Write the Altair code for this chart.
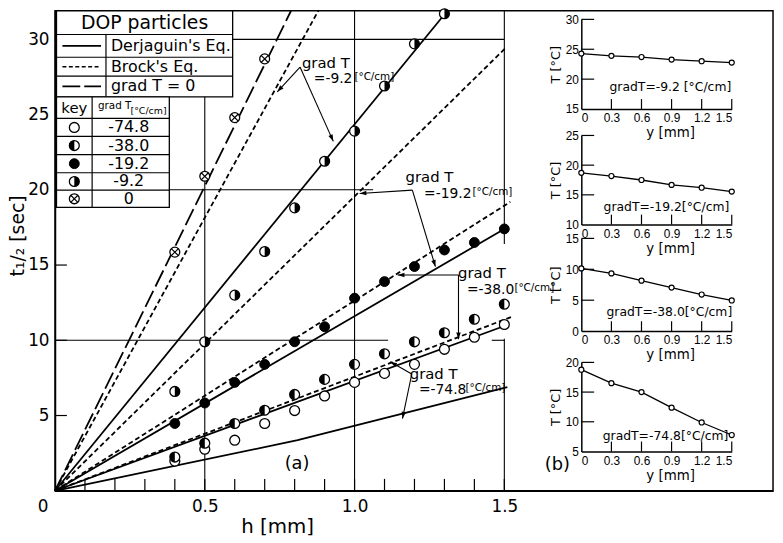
import math
import altair as alt
import pandas as pd

# ---------------- data ----------------
H = [0.4, 0.5, 0.6, 0.7, 0.8, 0.9, 1.0, 1.1, 1.2, 1.3, 1.4, 1.5]
T_M748 = [1.97, 2.76, 3.36, 4.47, 5.33, 6.3, 7.2, 7.8, 8.4, 9.4, 10.2, 11.05]
T_M380 = [2.24, 3.16, 4.47, 5.35, 6.4, 7.4, 8.4, 9.1, 9.9, 10.5, 11.4, 12.4]
T_M192 = [4.47, 5.83, 7.2, 8.4, 9.9, 10.9, 12.8, 13.9, 14.9, 16.0, 16.5, 17.4]
H_M92 = [0.4, 0.5, 0.6, 0.7, 0.8, 0.9, 1.0, 1.1, 1.2, 1.3]
T_M92 = [6.6, 9.9, 13.0, 15.9, 18.8, 21.9, 23.9, 26.9, 29.7, 31.7]
H_ZERO = [0.4, 0.5, 0.6, 0.7]
T_ZERO = [15.86, 20.9, 24.8, 28.7]

# theoretical curves (vertices)
LINE_ID = ["gradT0", "brock-9.2", "derj-9.2", "brock-19.2", "derj-19.2",
           "brock-38.0", "derj-38.0", "brock-74.8", "derj-74.8"]
LINE_KIND = ["long", "short", "solid", "short", "solid", "short", "solid", "short", "solid"]
LINE_H = [[0, 0.788], [0, 0.879], [0, 1.31], [0, 1.508], [0, 1.5],
          [0, 1.52], [0, 1.5], [0, 1.53], [0, 0.81, 1.51]]
LINE_T = [[0, 31.9], [0, 31.9], [0, 31.9], [0, 29.5], [0, 17.4],
          [0, 19.2], [0, 10.95], [0, 11.6], [0, 3.36, 6.89]]

# inset (b): temperature profiles
Y_POS = [0, 0.3, 0.6, 0.9, 1.2, 1.5]
T_P1 = [24.27, 23.9, 23.7, 23.27, 23.0, 22.77]
T_P2 = [18.7, 18.17, 17.5, 16.67, 16.2, 15.55]
T_P3 = [10.14, 9.34, 8.16, 7.04, 5.92, 4.96]
T_P4 = [18.77, 16.5, 15.0, 12.38, 9.88, 7.77]

GRADS = ["-74.8", "-38.0", "-19.2", "-9.2", "0"]

# ---------------- layout ----------------
FONT = "DejaVu Sans"
SMALL_FONT = "Liberation Sans"
W, HT = 725.5, 485
XMAX, YMAX = 2.397, 31.9
PXH, PXT = W / XMAX, HT / YMAX

XS = alt.Scale(domain=[0, XMAX], nice=False, zero=False)
YS = alt.Scale(domain=[0, YMAX], nice=False, zero=False)
XAX = alt.Axis(values=[0.5, 1.0, 1.5], format=".1f", labelFontSize=17, labelPadding=8,
               title="h  [mm]", titleFontSize=20, titleX=224.5, titleY=36,
               titleBaseline="middle", titleAlign="center")
YAX = alt.Axis(values=[5, 10, 15, 20, 25, 30], labelFontSize=17, labelPadding=6,
               title="t₁/₂ [sec]", titleFontSize=19, titleX=-37.5, titleY=227,
               titleBaseline="middle", titleAlign="center")


def mx(f):
    return alt.X(f + ":Q", scale=XS, axis=XAX)


def my(f):
    return alt.Y(f + ":Q", scale=YS, axis=YAX)


LEFT_HALF = "M0,-1A1,1,0,0,0,0,1Z"
RIGHT_HALF = "M0,-1A1,1,0,0,1,0,1Z"
CROSS = "M-0.72,-0.72L0.72,0.72M-0.72,0.72L0.72,-0.72"
ARROW = "M0,0L-0.42,1.25L0.42,1.25Z"


def marker_layers(df, x, y, kind, size=100):
    base = alt.Chart(df)
    out = []
    if kind == "filled":
        out.append(base.mark_point(shape="circle", filled=True, fill="black", stroke="black",
                                   strokeWidth=1, size=size, opacity=1).encode(x=x, y=y))
        return out
    out.append(base.mark_point(shape="circle", filled=True, fill="white", stroke="black",
                               strokeWidth=1.3, size=size, opacity=1).encode(x=x, y=y))
    if kind == "left":
        out.append(base.mark_point(shape=LEFT_HALF, filled=True, fill="black", strokeWidth=0,
                                   size=size, opacity=1).encode(x=x, y=y))
    elif kind == "right":
        out.append(base.mark_point(shape=RIGHT_HALF, filled=True, fill="black", strokeWidth=0,
                                   size=size, opacity=1).encode(x=x, y=y))
    elif kind == "cross":
        out.append(base.mark_point(shape=CROSS, filled=False, stroke="black", strokeWidth=1.2,
                                   size=size, opacity=1).encode(x=x, y=y))
    return out


layers = []

# grid segments (h1, t1, h2, t2)
grid = pd.DataFrame({
    "h1": [0.5, 1.0, 1.5, 1.5, 0, 1.458, 0, 0],
    "t1": [0, 0, 0, 16.4, 10, 10, 20, 30],
    "h2": [0.5, 1.0, 1.5, 1.5, 1.112, 1.5, 1.062, 1.5],
    "t2": [YMAX, YMAX, 10.1, YMAX, 10, 10, 20, 30],
})
layers.append(alt.Chart(grid).mark_rule(color="black", strokeWidth=1.1).encode(
    x=mx("h1"), x2="h2:Q", y=my("t1"), y2="t2:Q"))

# inward ticks
xt = [round(0.1 * i, 1) for i in range(1, 16)]
tick_x = pd.DataFrame({"h1": xt, "h2": xt, "t1": [0] * 15, "t2": [12 / PXT] * 15})
tick_y = pd.DataFrame({"h1": [0] * 6, "h2": [12 / PXH] * 6,
                       "t1": [5, 10, 15, 20, 25, 30], "t2": [5, 10, 15, 20, 25, 30]})
for d in (tick_x, tick_y):
    layers.append(alt.Chart(d).mark_rule(color="black", strokeWidth=1.2).encode(
        x=mx("h1"), x2="h2:Q", y=my("t1"), y2="t2:Q"))

# theory lines
rows = []
for lid, kind, hs, ts in zip(LINE_ID, LINE_KIND, LINE_H, LINE_T):
    for o, (h, t) in enumerate(zip(hs, ts)):
        rows.append({"id": lid, "kind": kind, "h": h, "t": t, "o": o})
lines_df = pd.DataFrame(rows)
DASH = {"long": [18, 5], "short": [5, 3], "solid": None}
for kind in ["solid", "short", "long"]:
    sub = lines_df[lines_df.kind == kind]
    kw = dict(color="black", strokeWidth=1.8)
    if DASH[kind]:
        kw["strokeDash"] = DASH[kind]
    layers.append(alt.Chart(sub).mark_line(**kw).encode(
        x=mx("h"), y=my("t"), detail="id:N", order="o:Q"))

# data markers
series = [
    (H, T_M748, "open"),
    (H, T_M380, "left"),
    (H, T_M192, "filled"),
    (H_M92, T_M92, "right"),
    (H_ZERO, T_ZERO, "cross"),
]
for hs, ts, kind in series:
    layers += marker_layers(pd.DataFrame({"h": hs, "t": ts}), mx("h"), my("t"), kind)

# annotation arrows: start -> end
ARR_S = [(0.818, 28.16), (0.818, 28.16), (1.193, 19.98), (1.193, 19.98),
         (1.347, 14.34), (1.347, 14.34), (1.191, 7.76), (1.191, 7.76)]
ARR_E = [(0.742, 26.51), (0.929, 23.22), (1.017, 19.76), (1.270, 14.89),
         (1.144, 14.34), (1.347, 10.07), (1.119, 8.57), (1.160, 4.80)]
arows, heads = [], []
for i, (s, e) in enumerate(zip(ARR_S, ARR_E)):
    arows.append({"id": i, "h": s[0], "t": s[1], "o": 0})
    arows.append({"id": i, "h": e[0], "t": e[1], "o": 1})
    dx = (e[0] - s[0]) * PXH
    dy = -(e[1] - s[1]) * PXT
    ang = math.degrees(math.atan2(dx, -dy)) % 360
    heads.append({"h": e[0], "t": e[1], "ang": ang})
layers.append(alt.Chart(pd.DataFrame(arows)).mark_line(color="black", strokeWidth=1.1).encode(
    x=mx("h"), y=my("t"), detail="id:N", order="o:Q"))
layers.append(alt.Chart(pd.DataFrame(heads)).mark_point(
    shape=ARROW, filled=True, fill="black", strokeWidth=0, size=120, opacity=1).encode(
    x=mx("h"), y=my("t"), angle=alt.Angle("ang:Q", scale=None)))

# annotation labels
ANN_GRAD = [(0.904, 28.42), (1.250, 20.86), (1.425, 14.47), (1.264, 7.76)]
ANN_VAL = ["=-9.2", "=-19.2", "=-38.0", "=-74.8"]
ANN_VPOS = [(0.864, 27.37), (1.232, 19.74), (1.375, 13.36), (1.215, 6.71)]
ANN_UDX = [41, 49, 48, 47]
layers.append(alt.Chart(pd.DataFrame({"h": [p[0] for p in ANN_GRAD], "t": [p[1] for p in ANN_GRAD],
                                      "lab": ["grad T"] * 4})).mark_text(
    fontSize=15, align="center", baseline="middle").encode(x=mx("h"), y=my("t"), text="lab:N"))
layers.append(alt.Chart(pd.DataFrame({"h": [p[0] for p in ANN_VPOS], "t": [p[1] for p in ANN_VPOS],
                                      "lab": ANN_VAL})).mark_text(
    fontSize=14, align="left", baseline="middle").encode(x=mx("h"), y=my("t"), text="lab:N"))
for (h, t), dxu in zip(ANN_VPOS, ANN_UDX):
    layers.append(alt.Chart(pd.DataFrame({"h": [h], "t": [t], "lab": ["[°C/cm]"]})).mark_text(
        fontSize=10.5, align="left", baseline="middle", dx=dxu, dy=-2).encode(
        x=mx("h"), y=my("t"), text="lab:N"))

# origin label and panel letters
layers.append(alt.Chart(pd.DataFrame({"h": [0], "t": [0], "lab": ["0"]})).mark_text(
    fontSize=17, dx=-12, dy=16, align="center", baseline="middle").encode(
    x=mx("h"), y=my("t"), text="lab:N"))
layers.append(alt.Chart(pd.DataFrame({"h": [0.808, 1.677], "t": [1.78, 1.71], "lab": ["(a)", "(b)"]})).mark_text(
    fontSize=18, align="center", baseline="middle").encode(x=mx("h"), y=my("t"), text="lab:N"))

# ---------------- legend tables (pixel layout) ----------------
ONE = pd.DataFrame({"k": [0]})


def box(x1, x2, y1, y2):
    return alt.Chart(ONE).mark_rect(fill="white", stroke="black", strokeWidth=1.3).encode(
        x=alt.value(x1), x2=alt.value(x2), y=alt.value(y1), y2=alt.value(y2))


def hline(x1, x2, y, **kw):
    return alt.Chart(ONE).mark_rule(color="black", strokeWidth=kw.pop("w", 1.2), **kw).encode(
        x=alt.value(x1), x2=alt.value(x2), y=alt.value(y))


def vline(x, y1, y2):
    return alt.Chart(ONE).mark_rule(color="black", strokeWidth=1.2).encode(
        x=alt.value(x), y=alt.value(y1), y2=alt.value(y2))


def label(x, y, s, size, align="left"):
    return alt.Chart(ONE).mark_text(fontSize=size, align=align, baseline="middle").encode(
        x=alt.value(x), y=alt.value(y), text=alt.value(s))


layers.append(box(1.5, 179.5, 0, 87))
for yy in (24, 47, 66):
    layers.append(hline(1.5, 179.5, yy))
layers.append(vline(51.5, 24, 87))
layers.append(label(90.5, 12, "DOP particles", 19, "center"))
layers.append(label(56.5, 35.5, "Derjaguin's Eq.", 16))
layers.append(label(56.5, 56.5, "Brock's Eq.", 16))
layers.append(label(56.5, 76.5, "grad T = 0", 16))
layers.append(hline(7.5, 46.5, 35.5, w=1.8))
layers.append(hline(7.5, 46.5, 56.5, w=1.5, strokeDash=[4, 2.5]))
layers.append(hline(7.5, 46.5, 76.5, w=1.8, strokeDash=[18, 4]))

layers.append(box(1.5, 115.5, 87, 198.7))
for yy in (108.7, 127, 145.3, 163.7, 181.3):
    layers.append(hline(1.5, 115.5, yy))
layers.append(vline(37.5, 87, 198.7))
layers.append(label(19.5, 98, "key", 15, "center"))
layers.append(label(60.3, 96.5, "grad T", 10.5, "center"))
layers.append(label(94.5, 101, "[°C/cm]", 9.5, "center"))
row_y = [117.9, 136.2, 154.5, 172.5, 190]
for g, yy in zip(GRADS, row_y):
    layers.append(label(74.5, yy, g, 16, "center"))
for kind, yy in zip(["open", "left", "filled", "right", "cross"], row_y):
    layers += marker_layers(ONE, alt.value(19.5), alt.value(yy), kind)

main = alt.layer(*layers)

# ---------------- insets (b) ----------------
IX0, IX1 = 531.8, 683.8
LABEL_EXPR = "datum.value == 0 ? '0' : format(datum.value, '.1f')"


def inset(T, ydom, yrange, yvals, xoff, ppu, text, tpos):
    xs = alt.Scale(domain=[0, 1.5], range=[IX0, IX1], nice=False, zero=False)
    ys = alt.Scale(domain=ydom, range=yrange, nice=False, zero=False)
    xax = alt.Axis(orient="bottom", offset=xoff, values=Y_POS, labelExpr=LABEL_EXPR,
                   labelFont=SMALL_FONT, labelFontSize=12, labelPadding=4,
                   title="y  [mm]", titleFontSize=13.5,
                   titleX=621.5, titleY=24, titleBaseline="middle", titleAlign="center")
    yax = alt.Axis(orient="left", offset=-(IX0), values=yvals, labelFont=SMALL_FONT,
                   labelFontSize=12, labelPadding=3, title="T [°C]", titleFontSize=13,
                   titlePadding=3)

    def X(f):
        return alt.X(f + ":Q", scale=xs, axis=xax)

    def Y(f):
        return alt.Y(f + ":Q", scale=ys, axis=yax)

    df = pd.DataFrame({"y": Y_POS, "T": T})
    ls = [alt.Chart(df).mark_line(color="black", strokeWidth=1.3).encode(x=X("y"), y=Y("T"))]
    tx = pd.DataFrame({"y": Y_POS[1:], "a": [ydom[0]] * 5, "b": [ydom[0] + 10 / ppu] * 5})
    ls.append(alt.Chart(tx).mark_rule(color="black", strokeWidth=1.2).encode(
        x=X("y"), y=Y("a"), y2="b:Q"))
    ty = pd.DataFrame({"T": yvals[1:], "a": [0] * (len(yvals) - 1), "b": [0.128] * (len(yvals) - 1)})
    ls.append(alt.Chart(ty).mark_rule(color="black", strokeWidth=1.2).encode(
        x=X("a"), x2="b:Q", y=Y("T")))
    ls.append(alt.Chart(df).mark_point(shape="circle", filled=True, fill="white", stroke="black",
                                       strokeWidth=1.2, size=26, opacity=1).encode(x=X("y"), y=Y("T")))
    ls.append(alt.Chart(pd.DataFrame({"y": [tpos[0]], "T": [tpos[1]], "lab": [text]})).mark_text(
        fontSize=12.5, align="center", baseline="middle").encode(x=X("y"), y=Y("T"), text="lab:N"))
    return alt.layer(*ls)


p1 = inset(T_P1, [15, 30], [99.3, 8.7], [15, 20, 25, 30], -385.7, 6.0,
           "gradT=-9.2 [°C/cm]", (0.888, 18.67))
p2 = inset(T_P2, [10, 25], [216, 126], [10, 15, 20, 25], -269, 6.0,
           "gradT=-19.2[°C/cm]", (0.849, 13.0))
p3 = inset(T_P3, [0, 15], [323.7, 230], [0, 5, 10, 15], -161.3, 6.25,
           "gradT=-38.0[°C/cm]", (0.878, 3.1))
p4 = inset(T_P4, [5, 20], [445.3, 355.3], [5, 10, 15, 20], -39.7, 6.0,
           "gradT=-74.8[°C/cm]", (0.84, 7.67))

chart = alt.layer(main, p1, p2, p3, p4).resolve_scale(
    x="independent", y="independent"
).properties(
    width=W, height=HT,
    padding={"left": 47.5, "top": 0, "right": 2, "bottom": 50},
    autosize=alt.AutoSizeParams(type="none"),
).configure(font=FONT).configure_view(
    stroke="black", strokeWidth=1.5
).configure_axis(
    domainColor="black", domainWidth=1.5, labelColor="black", titleColor="black",
    ticks=False, grid=False, labelFont=FONT, titleFont=FONT, titleFontWeight="normal"
).configure_text(color="black", font=FONT)

chart.save("out.html", embed_options={"renderer": "svg", "actions": False})
